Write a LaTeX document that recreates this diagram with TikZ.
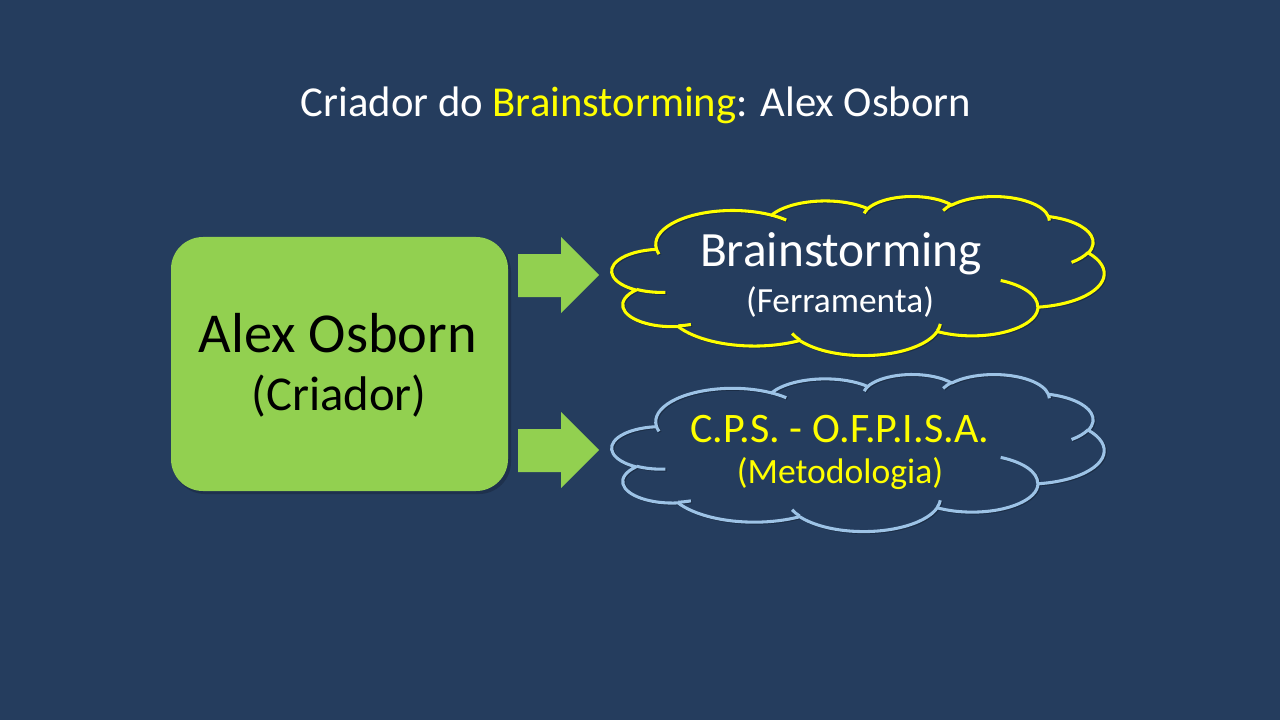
\documentclass[tikz,border=0pt]{standalone}
\usepackage{fontspec}
\setmainfont{Carlito}
\definecolor{bg}{HTML}{253D5E}
\definecolor{boxgreen}{HTML}{92D050}
\definecolor{cloudblue}{HTML}{9DC3E6}
\definecolor{ylw}{HTML}{FFFF00}
\tikzset{
  declare function={vp(\t,\a,\b)=\t+mod(atan2(\a*sin(\t),\b*cos(\t))-\t+900,360)-180;},
  greenbox/.style={fill=boxgreen, rounded corners=32*0.75pt, minimum width=337*0.75pt, minimum height=254*0.75pt, inner sep=0pt},
  shadowfill/.style={fill=black, opacity=0.18},
  cloudline/.style={line width=2.3pt, line join=round},
  arrowfill/.style={fill=boxgreen},
  lbl/.style={anchor=base, inner sep=0pt, text=white},
}
\newcommand\carc[4]{arc[x radius=#1,y radius=#2,start angle={vp(#3,#1,#2)},end angle={vp(#3+#4,#1,#2)}]}
\newcommand\cloudmain{(3.9,14.37) \carc{6.753}{9.190}{-190.4875}{123.7805}
  \carc{5.333}{7.267}{-144.1024}{89.9452}
  \carc{4.365}{5.945}{-145.8079}{99.7230}
  \carc{4.857}{6.595}{-130.9861}{117.2417}
  \carc{5.333}{7.273}{-78.7089}{109.0269}
  \carc{6.775}{9.220}{-46.2673}{130.2690}
  \carc{5.785}{7.867}{0.6250}{114.0333}
  \carc{6.752}{9.215}{22.4516}{115.1726}
  \carc{7.720}{10.543}{66.2426}{75.7110}
  \carc{4.360}{5.918}{-274.9421}{146.7356}
  \carc{4.345}{5.945}{-246.8285}{152.5189} -- cycle}
\newcommand\cloudhooks{(4.693,26.177) \carc{4.345}{5.945}{86.7420}{26.4295}
  (6.928,34.899) \carc{4.360}{5.918}{73.6105}{11.4475}
  (16.478,39.090) \carc{6.752}{9.215}{137.6242}{14.0811}
  (28.827,34.751) \carc{6.752}{9.215}{6.4533}{15.9984}
  (34.129,22.954) \carc{5.785}{7.867}{-70.2924}{70.9174}
  (41.798,15.354) \carc{5.333}{7.273}{30.3180}{27.7515}
  (38.324,5.426) \carc{4.857}{6.595}{-13.7443}{14.8589}
  (29.078,3.952) \carc{4.857}{6.595}{-149.1815}{18.1954}
  (22.141,4.720) \carc{4.365}{5.945}{-163.4943}{17.6864}
  (14.000,5.192) \carc{6.753}{9.190}{-66.7070}{12.3194}
  (4.127,15.789) \carc{6.753}{9.190}{157.6544}{11.8582}}
\begin{document}
\begin{tikzpicture}[x=0.75pt, y=0.75pt, yscale=-1]
\fill[bg] (0,0) rectangle (1280,720);
\useasboundingbox (0,0) rectangle (1280,720);

% title
\node[lbl] (title) at (636,117) {\fontsize{32}{38}\selectfont Criador do \textcolor{ylw}{Brainstorming}: Alex Osborn};

% green box with shadow
\fill[shadowfill, rounded corners=32*0.75pt] (173,240) rectangle (511,494);
\node[greenbox] (box) at (339.5,364) {};
\node[lbl, text=black] (boxt1) at (338,352) {\fontsize{42.3}{50}\selectfont Alex Osborn};
\node[lbl, text=black] (boxt2) at (339,410) {\fontsize{36.5}{43}\selectfont (Criador)};

% block arrows
\fill[arrowfill] (518,254) -- (561,254) -- (561,237) -- (599,275) -- (561,313) -- (561,297) -- (518,297) -- cycle;
\fill[arrowfill] (518,429) -- (561,429) -- (561,412) -- (599,450) -- (561,488) -- (561,472) -- (518,472) -- cycle;

% top cloud
\begin{scope}[shift={(612,196)}, xscale=492/43.2, yscale=159/43.2]
  \draw[cloudline, draw=black, opacity=0.25, shift={(0.1,0.25)}] \cloudmain;
  \draw[cloudline, draw=black, opacity=0.25, shift={(0.1,0.25)}] \cloudhooks;
  \draw[cloudline, draw=ylw] \cloudmain;
  \draw[cloudline, draw=ylw] \cloudhooks;
\end{scope}
\node[lbl] (c1t1) at (841,266) {\fontsize{37}{44}\selectfont Brainstorming};
\node[lbl] (c1t2) at (840,312) {\fontsize{26.5}{31}\selectfont (Ferramenta)};

% bottom cloud
\begin{scope}[shift={(612,374)}, xscale=492/43.2, yscale=157/43.2]
  \draw[cloudline, draw=black, opacity=0.25, shift={(0.1,0.25)}] \cloudmain;
  \draw[cloudline, draw=black, opacity=0.25, shift={(0.1,0.25)}] \cloudhooks;
  \draw[cloudline, draw=cloudblue] \cloudmain;
  \draw[cloudline, draw=cloudblue] \cloudhooks;
\end{scope}
\node[lbl, text=ylw] (c2t1) at (840,442) {\fontsize{31.5}{38}\selectfont C.P.S. - O.F.P.I.S.A.};
\node[lbl, text=ylw] (c2t2) at (840,483) {\fontsize{26.7}{32}\selectfont (Metodologia)};
\end{tikzpicture}
\end{document}
